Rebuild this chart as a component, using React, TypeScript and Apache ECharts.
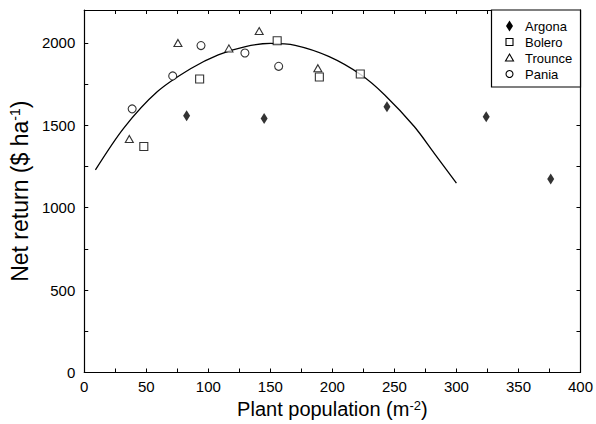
import React, { useEffect, useRef } from 'react';
import * as echarts from 'echarts';

const argona: number[][] = [[82.5, 1558], [145, 1542], [244, 1613], [324, 1552], [376, 1174]];
const bolero: number[][] = [[48, 1372], [93, 1781], [155.5, 2013], [189.5, 1793], [222.5, 1812]];
const trounce: number[][] = [[36.3, 1417], [75.5, 2000], [116.6, 1967], [141, 2072], [188.3, 1847]];
const pania: number[][] = [[38.6, 1600], [71.3, 1800], [94.1, 1984], [129.5, 1939], [156.7, 1858]];
const fitCurve: number[][] = [
  [9, 1230], [32, 1485], [59, 1705], [86, 1845], [108, 1928], [130, 1978], [150, 1997],
  [170, 1985], [197, 1918], [223, 1807], [242, 1686], [266, 1493], [282, 1332], [300, 1149],
];
const legendNames = ['Argona', 'Bolero', 'Trounce', 'Pania'];

const FONT = '"Liberation Sans", Arial, Helvetica, sans-serif';

export default function App() {
  const ref = useRef<HTMLDivElement>(null);
  useEffect(() => {
    if (!ref.current) return;
    const chart = echarts.init(ref.current, undefined, { renderer: 'svg' });
    const hollow = { color: '#fff', borderColor: '#000', borderWidth: 1.1 };
    const tickCommon = { inside: true, length: 4, lineStyle: { color: '#000', width: 1 } };
    const lineCommon = { show: true, onZero: false, lineStyle: { color: '#000', width: 1.2 } };
    const xBase = { type: 'value' as const, min: 0, max: 400, interval: 25, splitLine: { show: false } };
    const yBase = { type: 'value' as const, min: 0, max: 2200, interval: 250, splitLine: { show: false } };
    const rowsY = [26, 42, 58, 74];
    const iconX = 509.5;
    const legendGraphics: any[] = [
      { type: 'rect', shape: { x: 491.5, y: 10, width: 89, height: 77 }, style: { fill: '#fff', stroke: '#000', lineWidth: 1.2 }, z: 10 },
      { type: 'polygon', shape: { points: [[iconX, rowsY[0] - 5.5], [iconX + 3.5, rowsY[0]], [iconX, rowsY[0] + 5.5], [iconX - 3.5, rowsY[0]]] }, style: { fill: '#000' }, z: 11 },
      { type: 'rect', shape: { x: iconX - 3.5, y: rowsY[1] - 3.5, width: 7, height: 7 }, style: { fill: '#fff', stroke: '#000', lineWidth: 1.1 }, z: 11 },
      { type: 'polygon', shape: { points: [[iconX, rowsY[2] - 4], [iconX + 4, rowsY[2] + 3], [iconX - 4, rowsY[2] + 3]] }, style: { fill: '#fff', stroke: '#000', lineWidth: 1.1 }, z: 11 },
      { type: 'circle', shape: { cx: iconX, cy: rowsY[3], r: 3.5 }, style: { fill: '#fff', stroke: '#000', lineWidth: 1.1 }, z: 11 },
      ...legendNames.map((n, i) => ({
        type: 'text', x: 525, y: rowsY[i], z: 11,
        style: { text: n, fill: '#000', font: `13px ${FONT}`, verticalAlign: 'middle', align: 'left' },
      })),
    ];
    chart.setOption({
      animation: false,
      backgroundColor: '#fff',
      textStyle: { fontFamily: FONT },
      grid: { left: 81, right: 15.5, top: 10, bottom: 51.5 },
      xAxis: [
        {
          ...xBase, position: 'bottom',
          name: 'Plant population (m{sup|-2})', nameLocation: 'middle', nameGap: 26,
          nameTextStyle: { fontSize: 20, color: '#000', fontFamily: FONT, rich: { sup: { fontSize: 13, verticalAlign: 'top', color: '#000', fontFamily: FONT } } },
          axisLine: lineCommon, axisTick: tickCommon,
          axisLabel: { interval: 0, margin: 6, fontSize: 15, color: '#000', fontFamily: FONT, formatter: (v: number) => (v % 50 === 0 ? String(v) : '') },
        },
        {
          ...xBase, position: 'top', axisLine: lineCommon, axisTick: tickCommon, axisLabel: { show: false },
        },
      ],
      yAxis: [
        {
          ...yBase, position: 'left',
          name: 'Net return ($ ha{sup|-1})', nameLocation: 'middle', nameGap: 50, nameRotate: 90,
          nameTextStyle: { fontSize: 23, color: '#000', fontFamily: FONT, rich: { sup: { fontSize: 14, verticalAlign: 'top', color: '#000', fontFamily: FONT } } },
          axisLine: lineCommon, axisTick: tickCommon,
          axisLabel: { margin: 9, fontSize: 15, color: '#000', fontFamily: FONT, showMaxLabel: false, formatter: (v: number) => (v % 500 === 0 ? String(v) : '') },
        },
        {
          ...yBase, position: 'right', axisLine: lineCommon, axisTick: tickCommon, axisLabel: { show: false },
        },
      ],
      series: [
        { name: 'fit', type: 'line', data: fitCurve, smooth: 0.3, showSymbol: false, symbol: 'none', lineStyle: { color: '#000', width: 1.3 }, z: 2 },
        { name: 'Argona', type: 'scatter', data: argona, symbol: 'path://M3 0 L6 5 L3 10 L0 5 Z', symbolSize: [7, 11], itemStyle: { color: '#000' }, z: 3 },
        { name: 'Bolero', type: 'scatter', data: bolero, symbol: 'rect', symbolSize: 8, itemStyle: hollow, z: 3 },
        { name: 'Trounce', type: 'scatter', data: trounce, symbol: 'triangle', symbolSize: [8, 7], itemStyle: hollow, z: 3 },
        { name: 'Pania', type: 'scatter', data: pania, symbol: 'circle', symbolSize: 8, itemStyle: hollow, z: 3 },
      ],
      graphic: legendGraphics,
    });
    return () => chart.dispose();
  }, []);
  return <div ref={ref} style={{ position: 'fixed', left: 0, top: 0, width: 596, height: 424 }} />;
}
